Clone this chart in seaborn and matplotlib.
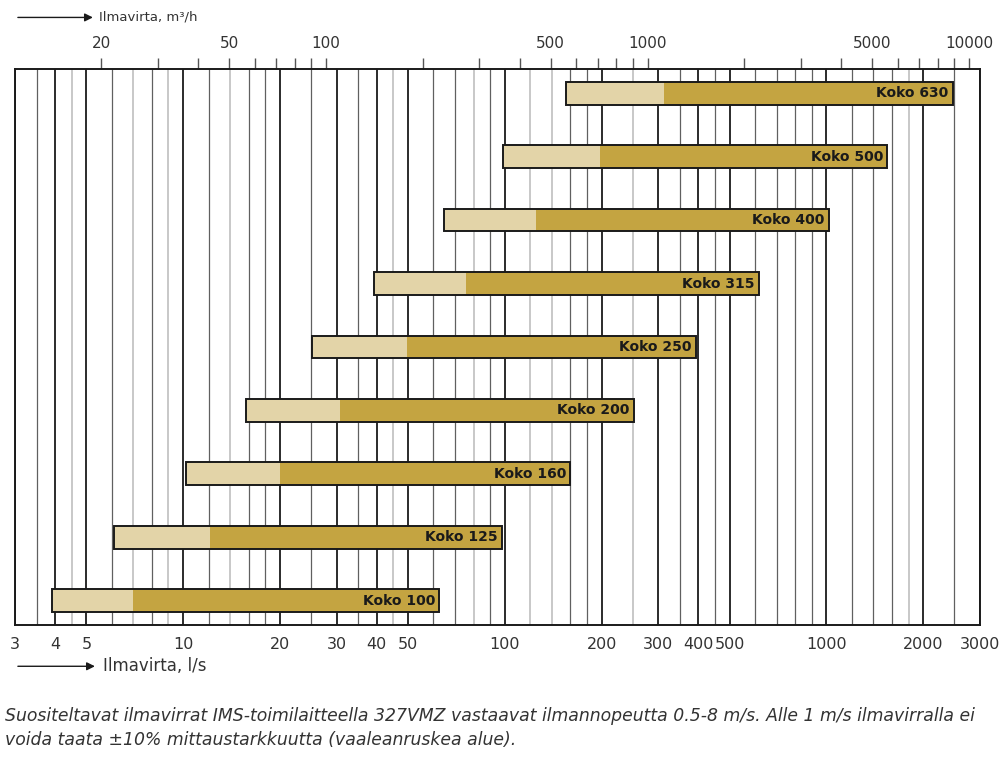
import numpy as np
import pandas as pd
import seaborn as sns
import matplotlib.pyplot as plt

# duct sizes and flow limits (l/s)
sizes = ['Koko 100', 'Koko 125', 'Koko 160', 'Koko 200', 'Koko 250',
         'Koko 315', 'Koko 400', 'Koko 500', 'Koko 630']
q_min = [3.9, 6.1, 10.2, 15.7, 25.2, 39.2, 64.5, 98.5, 155.0]     # 0.5 m/s
q_1ms = [7.0, 12.1, 20.0, 30.7, 49.5, 76.0, 125.0, 197.0, 312.0]  # 1 m/s
q_max = [62.5, 98.0, 160.0, 252.0, 392.0, 615.0, 1015.0, 1545.0, 2470.0]  # 8 m/s

bottom_ticks = [3, 4, 5, 10, 20, 30, 40, 50, 100, 200, 300, 400, 500, 1000, 2000, 3000]
thin_grid = [3.5, 6, 8, 12, 16, 18, 25, 35, 60, 70, 90, 160, 180, 350, 450,
             600, 700, 800, 900, 1200, 1400, 1600, 2500]
gray_grid = [4.5, 7, 9, 14, 45, 80, 120, 140, 250, 1800]
top_ticks = [20, 30, 40, 50, 60, 70, 80, 90, 100, 200, 300, 400, 500, 600, 700, 800,
             900, 1000, 2000, 3000, 4000, 5000, 6000, 7000, 8000, 9000, 10000]
top_labels = [20, 50, 100, 500, 1000, 5000, 10000]

df = pd.DataFrame({'size': sizes, 'qmin': q_min, 'q1': q_1ms, 'qmax': q_max})

sns.set_style('white')
plt.rcParams['font.family'] = ['DejaVu Sans']

fig = plt.figure(figsize=(10.07, 7.58), dpi=100)
ax = fig.add_axes([0.0149, 0.1755, 0.9582, 0.7335])
ax.set_xscale('log')
ax.set_xlim(3, 3000)
ax.set_ylim(-0.38, 8.38)

for v in thin_grid:
    ax.axvline(v, color='#606060', lw=0.9, zorder=1)
for v in gray_grid:
    ax.axvline(v, color='#c4c4c4', lw=1.3, zorder=1)
for v in bottom_ticks:
    ax.axvline(v, color='#1a1a1a', lw=1.3, zorder=1)

light = '#e3d4a8'
dark = '#c4a441'
h = 0.36
y = np.arange(len(df))
ax.barh(y, df['qmax'] - df['qmin'], left=df['qmin'], height=h, color=dark,
        edgecolor='none', lw=0, zorder=3)
ax.barh(y, df['q1'] - df['qmin'], left=df['qmin'], height=h, color=light,
        edgecolor='none', lw=0, zorder=4)
ax.barh(y, df['qmax'] - df['qmin'], left=df['qmin'], height=h, color='none',
        edgecolor='#1a1a1a', lw=1.4, zorder=5)
for yi, row in df.iterrows():
    ax.text(row['qmax'] / 1.03, yi, row['size'], ha='right', va='center',
            fontsize=10, fontweight='bold', color='#1a1a1a', zorder=6)

ax.set_yticks([])
ax.set_xticks(bottom_ticks)
ax.set_xticklabels([str(t) for t in bottom_ticks])
ax.xaxis.set_minor_locator(plt.NullLocator())
ax.tick_params(axis='x', direction='out', length=6, width=1.3, color='#1a1a1a',
               labelsize=11.5, labelcolor='#333333', pad=3)
for s in ax.spines.values():
    s.set_color('#1a1a1a')
    s.set_linewidth(1.4)

# secondary axis in m3/h
top = ax.secondary_xaxis('top', functions=(lambda x: x * 3.6, lambda x: x / 3.6))
top.set_xticks(top_ticks)
top.set_xticklabels([str(t) if t in top_labels else '' for t in top_ticks])
top.xaxis.set_minor_locator(plt.NullLocator())
top.tick_params(axis='x', direction='out', length=8, width=1.0, color='#555555',
                labelsize=11, labelcolor='#333333', pad=5)
top.spines['top'].set_visible(False)

ax.annotate('', xy=(0.097, 0.121), xytext=(0.015, 0.121), xycoords='figure fraction',
            arrowprops=dict(arrowstyle='-|>', color='#1a1a1a', lw=1.0,
                            mutation_scale=12))
fig.text(0.102, 0.121, 'Ilmavirta, l/s', fontsize=12, color='#333333', va='center')
ax.annotate('', xy=(0.095, 0.977), xytext=(0.015, 0.977), xycoords='figure fraction',
            arrowprops=dict(arrowstyle='-|>', color='#1a1a1a', lw=1.0,
                            mutation_scale=12))
fig.text(0.098, 0.977, 'Ilmavirta, m³/h', fontsize=9.5, color='#333333', va='center')

caption = ('Suositeltavat ilmavirrat IMS-toimilaitteella 327VMZ vastaavat ilmannopeutta '
           '0.5-8 m/s. Alle 1 m/s ilmavirralla ei\n'
           'voida taata ±10% mittaustarkkuutta (vaaleanruskea alue).')
fig.text(0.005, 0.012, caption, fontsize=12.4, style='italic', color='#333333',
         va='bottom', linespacing=1.45)

fig.savefig('out.png', dpi=100)
